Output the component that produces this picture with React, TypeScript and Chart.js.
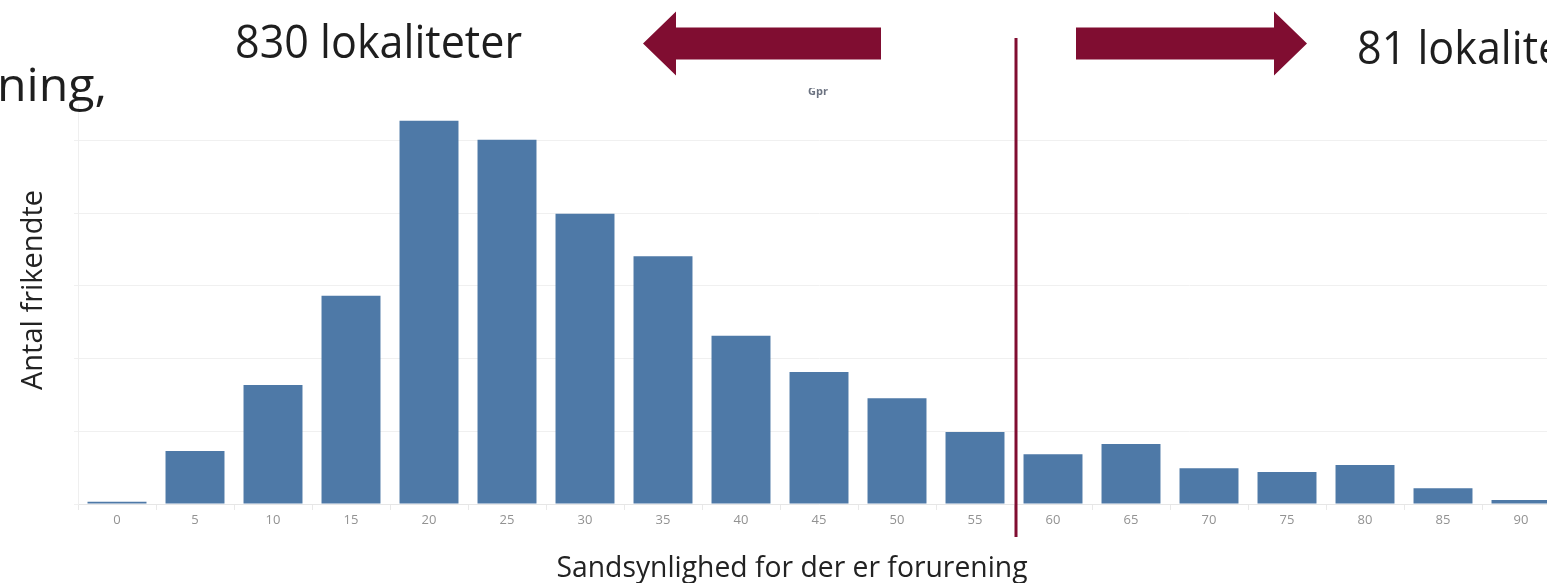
import { useEffect, useRef } from 'react';
import { Chart, registerables } from 'chart.js';

Chart.register(...registerables);

// ---- data ----
const categories = ['0', '5', '10', '15', '20', '25', '30', '35', '40', '45', '50', '55', '60', '65', '70', '75', '80', '85', '90'];
const frikendte = [0.6, 14.6, 32.7, 57.3, 105.4, 100.2, 79.8, 68.1, 46.3, 36.3, 29.1, 19.8, 13.7, 16.5, 9.8, 8.8, 10.7, 4.3, 1.1];
const yMax = 110;
const yStep = 20;
const splitAfterCategory = '55';
const leftCountLabel = '830 lokaliteter';
const rightCountLabel = '81 lokaliteter';
const cutTitleText = 'ning,';
const legendStub = 'Gpr';
const xTitle = 'Sandsynlighed for der er forurening';
const yTitle = 'Antal frikendte';

const BAR = '#4E79A7';
const MAROON = '#800D31';
const FONT = '"Open Sans", "Noto Sans", sans-serif';

function drawScaledText(
  ctx: CanvasRenderingContext2D,
  text: string,
  x: number,
  y: number,
  sx: number,
  align: 'left' | 'right' | 'center'
) {
  const w = ctx.measureText(text).width * sx;
  let left = x;
  if (align === 'right') left = x - w;
  if (align === 'center') left = x - w / 2;
  ctx.save();
  ctx.translate(left, y);
  ctx.scale(sx, 1);
  ctx.textAlign = 'left';
  ctx.fillText(text, 0, 0);
  ctx.restore();
}

const annotations = {
  id: 'annotations',
  afterDraw(chart: any) {
    const ctx: CanvasRenderingContext2D = chart.ctx;
    const xs = chart.scales.x;
    const i = categories.indexOf(splitAfterCategory);
    const lineX = (xs.getPixelForValue(i) + xs.getPixelForValue(i + 1)) / 2 + 2;

    ctx.save();
    // vertical separator
    ctx.fillStyle = MAROON;
    ctx.fillRect(lineX - 1.5, 38, 3, 537 - 38);

    // arrows
    const cy = 43.5;
    const shaftH = 16;
    const headH = 32;
    const headL = 33;
    // left arrow
    {
      const shaftRight = lineX - 135;
      const tip = lineX - 373;
      ctx.beginPath();
      ctx.moveTo(tip, cy);
      ctx.lineTo(tip + headL, cy - headH);
      ctx.lineTo(tip + headL, cy - shaftH);
      ctx.lineTo(shaftRight, cy - shaftH);
      ctx.lineTo(shaftRight, cy + shaftH);
      ctx.lineTo(tip + headL, cy + shaftH);
      ctx.lineTo(tip + headL, cy + headH);
      ctx.closePath();
      ctx.fill();
    }
    // right arrow
    {
      const shaftLeft = lineX + 60;
      const tip = lineX + 291;
      ctx.beginPath();
      ctx.moveTo(tip, cy);
      ctx.lineTo(tip - headL, cy - headH);
      ctx.lineTo(tip - headL, cy - shaftH);
      ctx.lineTo(shaftLeft, cy - shaftH);
      ctx.lineTo(shaftLeft, cy + shaftH);
      ctx.lineTo(tip - headL, cy + shaftH);
      ctx.lineTo(tip - headL, cy + headH);
      ctx.closePath();
      ctx.fill();
    }

    // big labels
    ctx.fillStyle = '#1e1e1e';
    ctx.textBaseline = 'alphabetic';
    ctx.font = `46px ${FONT}`;
    const sx = 287 / ctx.measureText(leftCountLabel).width;
    drawScaledText(ctx, leftCountLabel, 235, 58, sx, 'left');
    drawScaledText(ctx, rightCountLabel, 1357, 64, sx, 'left');
    const sxCut = 110 / ctx.measureText(cutTitleText).width;
    drawScaledText(ctx, cutTitleText, -3, 101, sxCut, 'left');

    // legend stub
    ctx.save();
    ctx.beginPath();
    ctx.rect(790, 88, 60, 20);
    ctx.clip();
    ctx.fillStyle = '#6b7280';
    ctx.font = `bold 11px ${FONT}`;
    ctx.fillText(legendStub, 808, 95);
    ctx.restore();

    // axis titles
    ctx.fillStyle = '#222';
    ctx.font = `29px ${FONT}`;
    const sxX = 471 / ctx.measureText(xTitle).width;
    drawScaledText(ctx, xTitle, 792, 577, sxX, 'center');

    ctx.save();
    ctx.translate(42, 290);
    ctx.rotate(-Math.PI / 2);
    const sxY = 200 / ctx.measureText(yTitle).width;
    drawScaledText(ctx, yTitle, 0, 0, sxY, 'center');
    ctx.restore();

    ctx.restore();
  },
};

export default function App() {
  const canvasRef = useRef<HTMLCanvasElement | null>(null);

  useEffect(() => {
    if (!canvasRef.current) return;
    const chart = new Chart(canvasRef.current, {
      type: 'bar',
      data: {
        labels: categories,
        datasets: [
          {
            label: 'Antal frikendte',
            data: frikendte,
            backgroundColor: BAR,
            borderWidth: 0,
            barPercentage: 0.756,
            categoryPercentage: 1,
          },
        ],
      },
      options: {
        animation: false,
        responsive: true,
        maintainAspectRatio: false,
        layout: { padding: { top: 104, right: 15, left: 0, bottom: 0 } },
        plugins: {
          legend: { display: false },
          tooltip: { enabled: false },
          title: { display: false },
        },
        scales: {
          x: {
            offset: true,
            grid: {
              offset: true,
              drawOnChartArea: false,
              drawTicks: true,
              tickLength: 6,
              color: '#e9e9e9',
            },
            border: { display: true, color: '#e6e6e6' },
            ticks: {
              color: '#929292',
              font: { family: FONT, size: 13 },
              padding: 2,
              maxRotation: 0,
              autoSkip: false,
            },
            afterFit: (s: any) => {
              s.height = 79;
            },
          },
          y: {
            min: 0,
            max: yMax,
            ticks: { display: false, stepSize: yStep, includeBounds: false },
            grid: { color: '#f0f0f0', tickLength: 4, drawTicks: true },
            border: { display: true, color: '#efefef' },
            afterFit: (s: any) => {
              s.width = 78;
            },
          },
        },
      },
      plugins: [annotations],
    });
    return () => chart.destroy();
  }, []);

  return (
    <div
      style={{
        position: 'fixed',
        left: 0,
        top: 0,
        width: '100vw',
        height: '100vh',
        overflow: 'hidden',
        background: '#fff',
      }}
    >
      <div style={{ position: 'relative', width: 1575, height: 583 }}>
        <canvas ref={canvasRef} />
      </div>
    </div>
  );
}
